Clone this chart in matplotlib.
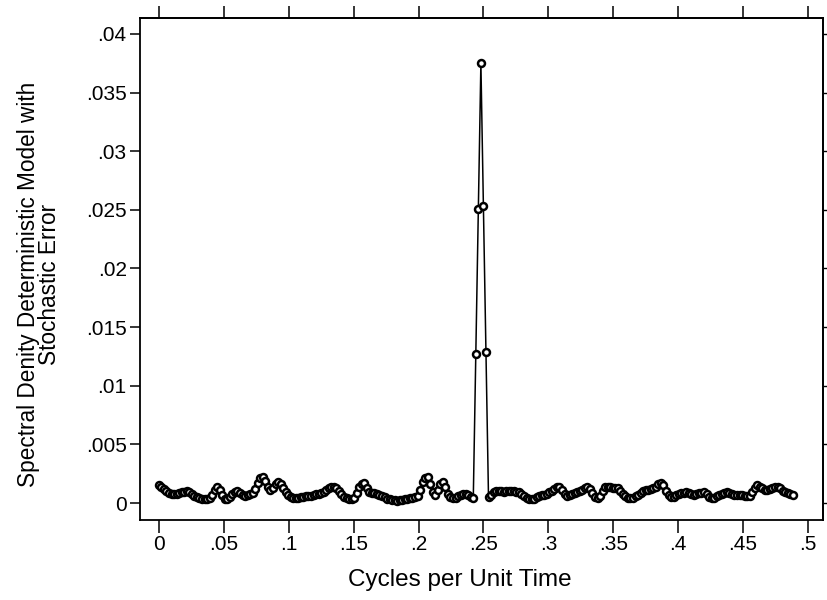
import numpy as np
import matplotlib.pyplot as plt
from matplotlib.ticker import FixedLocator, FixedFormatter

# periodogram grid: frequency k / n_fft
n_fft = 512

spec = [
    0.00150, 0.00140, 0.00120, 0.00100, 0.00085, 0.00080, 0.00078, 0.00080, 0.00082, 0.00090,
    0.00098, 0.00100, 0.00092, 0.00075, 0.00060, 0.00048, 0.00040, 0.00036, 0.00033, 0.00032,
    0.00040, 0.00070, 0.00115, 0.00140, 0.00115, 0.00065, 0.00035, 0.00032, 0.00055, 0.00080,
    0.00095, 0.00100, 0.00085, 0.00068, 0.00060, 0.00065, 0.00075, 0.00085, 0.00120, 0.00170,
    0.00210, 0.00220, 0.00190, 0.00140, 0.00110, 0.00125, 0.00165, 0.00180, 0.00160, 0.00125,
    0.00095, 0.00072, 0.00055, 0.00045, 0.00040, 0.00042, 0.00048, 0.00052, 0.00056, 0.00060,
    0.00063, 0.00068, 0.00073, 0.00080, 0.00088, 0.00098, 0.00110, 0.00125, 0.00135, 0.00140,
    0.00125, 0.00100, 0.00075, 0.00055, 0.00040, 0.00032, 0.00030, 0.00045, 0.00085, 0.00135,
    0.00165, 0.00170, 0.00130, 0.00095, 0.00085, 0.00082, 0.00080, 0.00072, 0.00060, 0.00048,
    0.00038, 0.00030, 0.00025, 0.00022, 0.00020, 0.00022, 0.00026, 0.00030, 0.00035, 0.00040,
    0.00044, 0.00048, 0.00060, 0.00110, 0.00180, 0.00215, 0.00220, 0.00160, 0.00095, 0.00070,
    0.00110, 0.00160, 0.00180, 0.00140, 0.00080, 0.00050, 0.00040, 0.00045, 0.00060, 0.00072,
    0.00080, 0.00078, 0.00065, 0.00050, 0.00040, 0.01270, 0.02510, 0.03750, 0.02530, 0.01290,
    0.00050, 0.00070, 0.00090, 0.00100, 0.00102, 0.00100, 0.00098, 0.00100, 0.00104, 0.00102,
    0.00100, 0.00098, 0.00095, 0.00080, 0.00060, 0.00042, 0.00032, 0.00030, 0.00038, 0.00050,
    0.00060, 0.00068, 0.00072, 0.00080, 0.00090, 0.00105, 0.00120, 0.00135, 0.00140, 0.00115,
    0.00075, 0.00060, 0.00065, 0.00075, 0.00085, 0.00090, 0.00100, 0.00115, 0.00130, 0.00140,
    0.00120, 0.00085, 0.00055, 0.00042, 0.00060, 0.00100, 0.00135, 0.00140, 0.00135, 0.00132,
    0.00130, 0.00125, 0.00105, 0.00080, 0.00060, 0.00045, 0.00040, 0.00045, 0.00058, 0.00072,
    0.00088, 0.00100, 0.00108, 0.00112, 0.00118, 0.00128, 0.00140, 0.00158, 0.00170, 0.00150,
    0.00100, 0.00065, 0.00050, 0.00055, 0.00065, 0.00078, 0.00085, 0.00088, 0.00090, 0.00085,
    0.00078, 0.00072, 0.00075, 0.00082, 0.00088, 0.00090, 0.00075, 0.00055, 0.00042, 0.00045,
    0.00058, 0.00070, 0.00080, 0.00088, 0.00090, 0.00085, 0.00078, 0.00072, 0.00070, 0.00068,
    0.00065, 0.00062, 0.00060, 0.00062, 0.00090, 0.00130, 0.00150, 0.00140, 0.00125, 0.00112,
    0.00110, 0.00118, 0.00130, 0.00138, 0.00140, 0.00125, 0.00105, 0.00090, 0.00082, 0.00076,
    0.00070,
]
freq = np.arange(len(spec)) / n_fft

xticks = [0, .05, .1, .15, .2, .25, .3, .35, .4, .45, .5]
xlabels = ["0", ".05", ".1", ".15", ".2", ".25", ".3", ".35", ".4", ".45", ".5"]
yticks = [0, .005, .01, .015, .02, .025, .03, .035, .04]
ylabels = ["0", ".005", ".01", ".015", ".02", ".025", ".03", ".035", ".04"]

plt.rcParams['font.family'] = ['Liberation Sans', 'DejaVu Sans']

fig = plt.figure(figsize=(8.28, 6.0), dpi=100)
ax = fig.add_axes([0.169, 0.1333, 0.825, 0.8367])

ax.plot(freq, spec, color="black", lw=1.1, marker="o", ms=5.0,
        mfc="white", mec="black", mew=1.8)

ax.set_xlim(-0.0146, 0.5116)
ax.set_ylim(-0.00145, 0.04136)

ax.xaxis.set_major_locator(FixedLocator(xticks))
ax.xaxis.set_major_formatter(FixedFormatter(xlabels))
ax.yaxis.set_major_locator(FixedLocator(yticks))
ax.yaxis.set_major_formatter(FixedFormatter(ylabels))

ax.tick_params(axis="x", direction="out", length=9.5, width=1.1, pad=1.5, labelsize=15)
ax.tick_params(axis="y", direction="out", length=7, width=1.1, pad=2.5, labelsize=15)

for s in ax.spines.values():
    s.set_linewidth(1.3)

# top ticks (long, no labels) and right ticks (short, no labels)
top = ax.secondary_xaxis("top")
top.xaxis.set_major_locator(FixedLocator(xticks))
top.tick_params(direction="out", length=9, width=1.1, labeltop=False)
top.spines["top"].set_linewidth(1.3)

right = ax.secondary_yaxis("right")
right.yaxis.set_major_locator(FixedLocator(yticks))
right.tick_params(direction="out", length=3, width=1.0, labelright=False)
right.spines["right"].set_linewidth(1.3)

ax.set_xlabel("Cycles per Unit Time", fontsize=17.5)
ax.xaxis.set_label_coords(0.4685, -0.1195)
ax.set_ylabel("Spectral Denity Deterministic Model with\nStochastic Error",
              fontsize=16.3, linespacing=0.9)
ax.yaxis.set_label_coords(-0.148, 0.47)
ax.xaxis.label.set_va("center")
ax.yaxis.label.set_va("center")

fig.savefig("out.png", dpi=100)
